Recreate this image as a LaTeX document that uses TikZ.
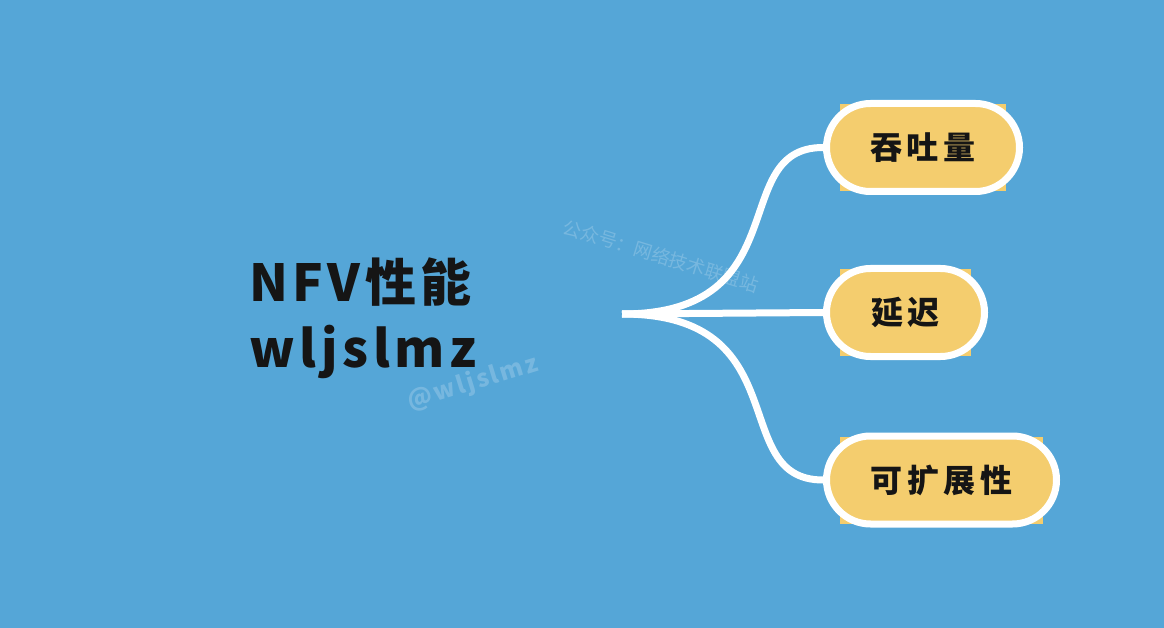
\documentclass[tikz,border=0pt]{standalone}
\usepackage{fontspec}
\usepackage{xcolor}
\usetikzlibrary{positioning, backgrounds}
\newfontfamily\cjk{Noto Sans CJK SC}
\newfontfamily\cjkwide{Noto Sans CJK SC}[LetterSpace=9]
\newfontfamily\cjkbox{Noto Sans CJK SC}[LetterSpace=14]
\definecolor{skyblue}{HTML}{55A6D7}
\definecolor{pillyellow}{HTML}{F4CD6E}
\definecolor{inktext}{HTML}{151515}

\begin{document}
\begin{tikzpicture}[
    x=1pt, y=-1pt,
    title/.style={align=left, inner sep=0pt, text=inktext,
                  font=\cjkwide\bfseries\fontsize{51}{66}\selectfont},
    pill/.style={rectangle, draw=white, line width=7pt, fill=pillyellow,
                 rounded corners=44pt, minimum height=88pt, inner sep=0pt,
                 text=inktext, font=\cjkbox\bfseries\fontsize{32}{36}\selectfont},
    branch/.style={draw=white, line width=7pt},
    wmark/.style={text=white, opacity=0.2, inner sep=0pt}
]

% main topic and its three branches
\node[title, anchor=west] (topic) at (249,318) {NFV性能\\wljslmz};
\node[pill, minimum width=193pt] (tput) at (923,147.5) {吞吐量};
\node[pill, minimum width=158pt] (lat) at (905.5,312.5) {延迟};
\node[pill, minimum width=230pt] (scal) at (941.5,480) {可扩展性};

\coordinate (hub) at (622,314);

\draw[branch] (hub) .. controls +(178,0) and +(-97,0) .. (tput.west);
\draw[branch] (hub) -- (lat.west);
\draw[branch] (hub) .. controls +(178,0) and +(-97,0) .. (scal.west);

% faint watermarks
\node[wmark, rotate=-17, font=\cjk\fontsize{18.5}{22}\selectfont] (wm1) at (661,256) {公众号：网络技术联盟站};
\node[wmark, rotate=17, font=\cjkwide\bfseries\fontsize{24}{28}\selectfont] (wm2) at (473,383) {@wljslmz};

\begin{scope}[on background layer]
  \fill[skyblue] (0,0) rectangle (1164,628);
  % yellow fill peeking out at the corners
  \fill[pillyellow] ([shift={(17,4)}]tput.north west) rectangle ([shift={(-17,-4)}]tput.south east);
  \fill[pillyellow] ([shift={(17,4)}]lat.north west) rectangle ([shift={(-17,-4)}]lat.south east);
  \fill[pillyellow] ([shift={(17,4)}]scal.north west) rectangle ([shift={(-17,-4)}]scal.south east);
\end{scope}

\end{tikzpicture}
\end{document}
